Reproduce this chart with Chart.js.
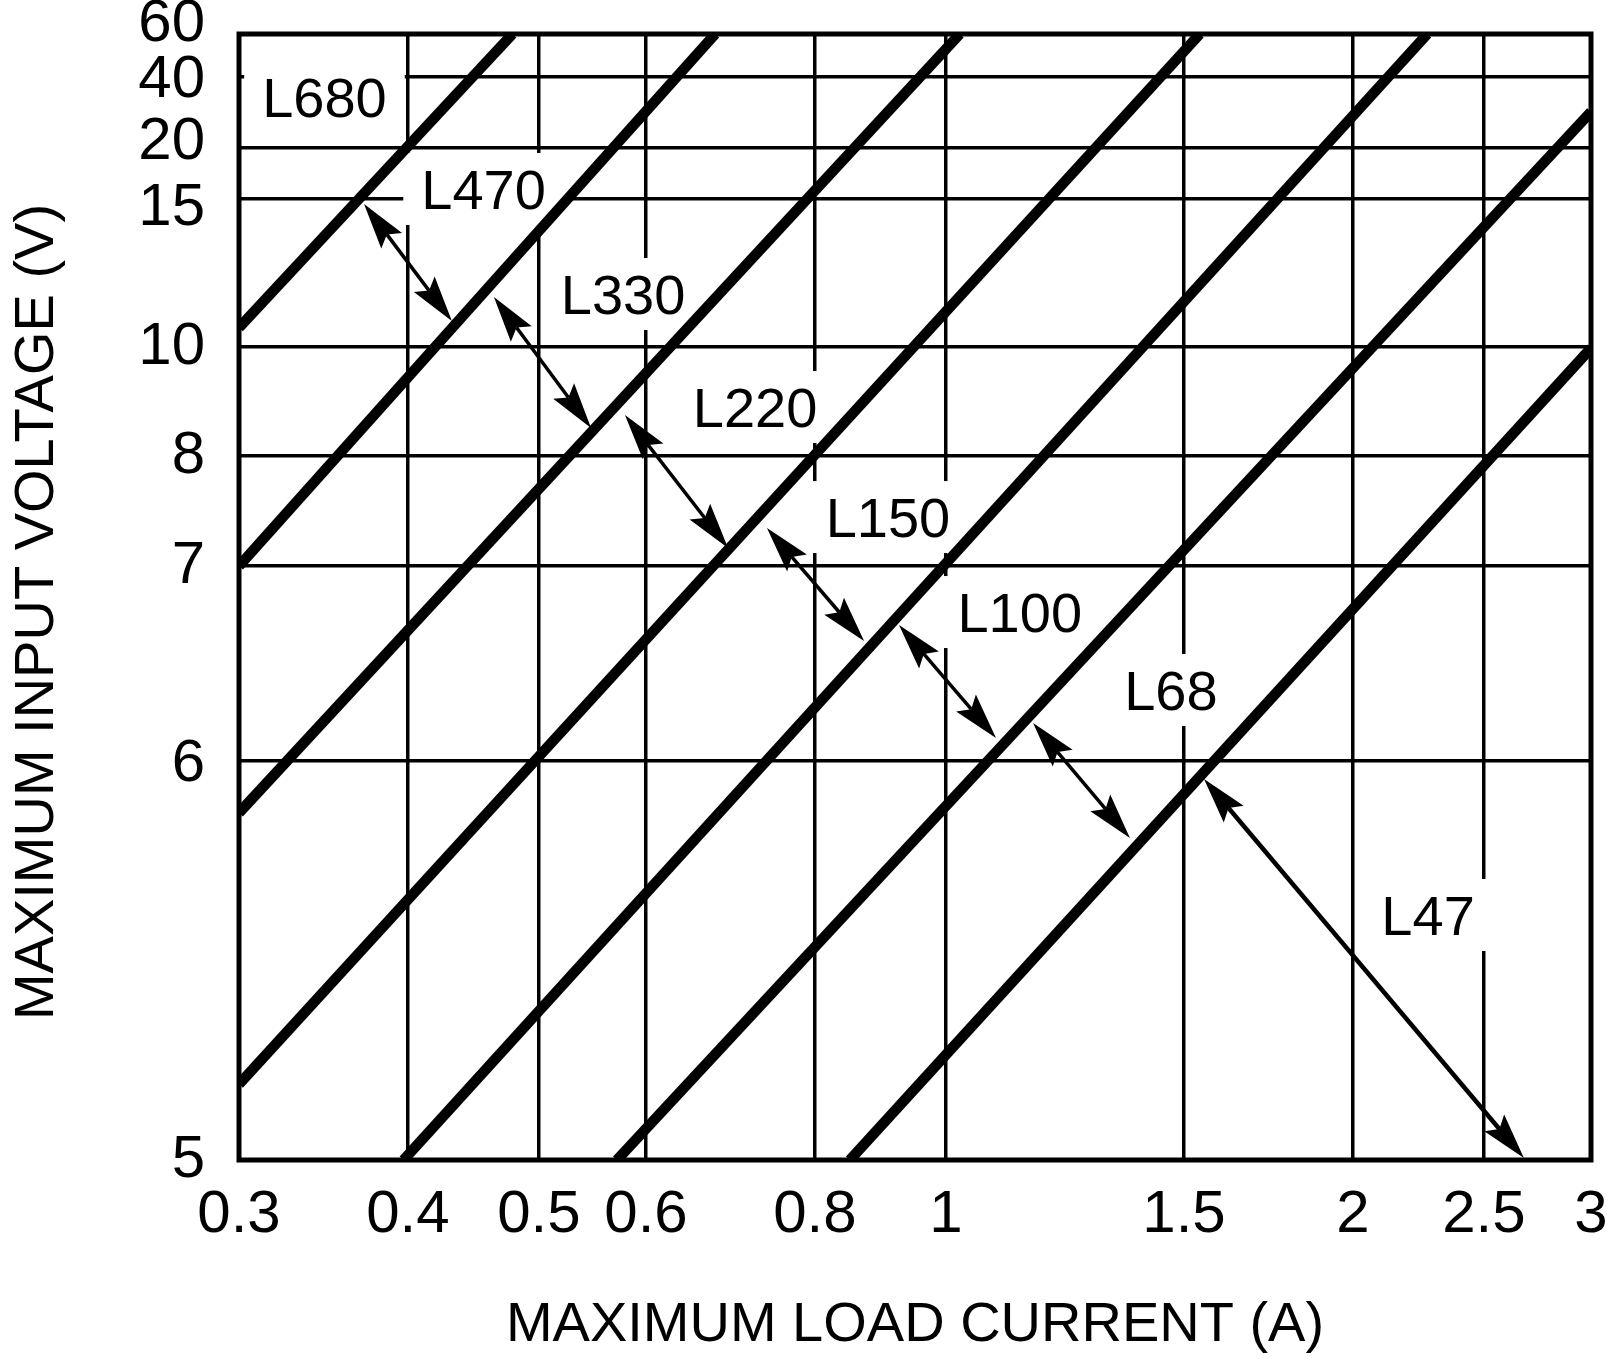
<!DOCTYPE html>
<html>
<head>
<meta charset="utf-8">
<script src="https://cdn.jsdelivr.net/npm/chart.js@4.4.1/dist/chart.umd.min.js"></script>
<style>
  html, body { margin: 0; padding: 0; background: #ffffff; }
  #wrap { width: 1607px; height: 1359px; position: relative; }
</style>
</head>
<body>
<div id="wrap"><canvas id="chart"></canvas></div>
<script>
// ---------------- data ----------------
const currentTicks = [0.3, 0.4, 0.5, 0.6, 0.8, 1, 1.5, 2, 2.5, 3];          // A (log axis)
const voltageTicks = [5, 6, 7, 8, 10, 15, 20, 40, 60];                     // V

// inductor boundary lines: one straight segment each (current A, voltage V)
const lineNames        = ['L680', 'L470', 'L330', 'L220', 'L150', 'L100', 'L68'];
const lineStartCurrent = [0.30, 0.30, 0.30, 0.30, 0.397, 0.571, 0.849];
const lineStartVoltage = [10.65, 7.0, 5.87, 5.19, 5, 5, 5];
const lineEndCurrent   = [0.478, 0.675, 1.024, 1.541, 2.27, 3, 3];
const lineEndVoltage   = [60, 60, 60, 60, 60, 30.2, 9.98];

// region labels (anchor in current / voltage)
const labelText    = ['L680', 'L470', 'L330', 'L220', 'L150', 'L100', 'L68', 'L47'];
const labelCurrent = [0.347, 0.455, 0.577, 0.7225, 0.906, 1.134, 1.467, 2.273];
const labelVoltage = [34.4, 15.98, 11.79, 8.90, 7.445, 6.764, 6.364, 5.614];

// double-headed arrows marking each region
const arrowStartCurrent = [0.3712, 0.4631, 0.5789, 0.7373, 0.9232, 1.160, 1.552];
const arrowStartVoltage = [14.83, 11.69, 8.752, 7.345, 6.697, 6.195, 5.955];
const arrowEndCurrent   = [0.4311, 0.5464, 0.6900, 0.8699, 1.089, 1.368, 2.676];
const arrowEndVoltage   = [10.88, 8.514, 7.164, 6.615, 6.118, 5.807, 5.005];

// ---------------- voltage axis geometry (non-uniform printed scale) ----------------
const voltageAxisFrac  = [0, 0.3544, 0.5275, 0.6252, 0.7220, 0.8535, 0.8988, 0.9618, 1];
const voltageLabelNudge = [0, 4, 0, 0, 0, 9, -5, 3, -10];   // px, printed label offsets
const voltageTitleShift = 15;                               // px

function voltToFrac(v) {
  const t = voltageTicks, f = voltageAxisFrac, n = t.length - 1;
  let i = 1;
  while (i < n && v > t[i]) i++;
  return f[i - 1] + (v - t[i - 1]) / (t[i] - t[i - 1]) * (f[i] - f[i - 1]);
}
function fracToVolt(d) {
  const t = voltageTicks, f = voltageAxisFrac, n = t.length - 1;
  let i = 1;
  while (i < n && d > f[i]) i++;
  return t[i - 1] + (d - f[i - 1]) / (f[i] - f[i - 1]) * (t[i] - t[i - 1]);
}

class VoltageScale extends Chart.LinearScale {
  buildTicks() { return voltageTicks.map(v => ({ value: v })); }
  getPixelForValue(value) { return this.getPixelForDecimal(voltToFrac(value)); }
  getValueForPixel(pixel) { return fracToVolt(this.getDecimalForPixel(pixel)); }
  _computeLabelItems(chartArea) {
    const items = super._computeLabelItems(chartArea);
    items.forEach((it, i) => {
      if (it && it.options && it.options.translation) it.options.translation[1] += (voltageLabelNudge[i] || 0);
    });
    return items;
  }
  drawTitle() {
    const ctx = this.ctx;
    ctx.save();
    ctx.translate(0, voltageTitleShift);
    super.drawTitle();
    ctx.restore();
  }
}
VoltageScale.id = 'voltage';
VoltageScale.defaults = {};
Chart.register(VoltageScale);

const FONT = "'Liberation Sans', Arial, sans-serif";

// ---------------- annotation plugin ----------------
const annotations = {
  id: 'annotations',
  beforeDatasetsDraw(chart) {
    const { ctx, chartArea: a, scales: { x, y } } = chart;
    ctx.save();
    // labels on white boxes
    ctx.font = '56px ' + FONT;
    ctx.textAlign = 'center';
    ctx.textBaseline = 'alphabetic';
    labelText.forEach((t, i) => {
      const px = x.getPixelForValue(labelCurrent[i]);
      const py = y.getPixelForValue(labelVoltage[i]);
      const w = ctx.measureText(t).width;
      ctx.fillStyle = '#ffffff';
      ctx.fillRect(px - w / 2 - 18, py - 20 - 16, w + 36, 40 + 32);
      ctx.fillStyle = '#000000';
      ctx.fillText(t, px, py + 20);
    });
    // frame
    ctx.strokeStyle = '#000000';
    ctx.lineWidth = 5;
    ctx.strokeRect(a.left, a.top, a.right - a.left, a.bottom - a.top);
    ctx.restore();
  },
  afterDatasetsDraw(chart) {
    const { ctx, scales: { x, y } } = chart;
    const L = 46, W = 13, N = 38;
    ctx.save();
    ctx.fillStyle = '#000000';
    ctx.strokeStyle = '#000000';
    function head(tx, ty, ux, uy) {
      const nx = -uy, ny = ux;
      ctx.beginPath();
      ctx.moveTo(tx, ty);
      ctx.lineTo(tx + ux * L + nx * W, ty + uy * L + ny * W);
      ctx.lineTo(tx + ux * N, ty + uy * N);
      ctx.lineTo(tx + ux * L - nx * W, ty + uy * L - ny * W);
      ctx.closePath();
      ctx.fill();
    }
    arrowStartCurrent.forEach((c, i) => {
      const x1 = x.getPixelForValue(c), y1 = y.getPixelForValue(arrowStartVoltage[i]);
      const x2 = x.getPixelForValue(arrowEndCurrent[i]), y2 = y.getPixelForValue(arrowEndVoltage[i]);
      const len = Math.hypot(x2 - x1, y2 - y1);
      const ux = (x2 - x1) / len, uy = (y2 - y1) / len;
      ctx.lineWidth = i === arrowStartCurrent.length - 1 ? 4.5 : 3.5;
      ctx.beginPath();
      ctx.moveTo(x1 + ux * N, y1 + uy * N);
      ctx.lineTo(x2 - ux * N, y2 - uy * N);
      ctx.stroke();
      head(x1, y1, ux, uy);
      head(x2, y2, -ux, -uy);
    });
    ctx.restore();
  }
};

// ---------------- chart ----------------
const datasets = lineNames.map((name, i) => ({
  label: name,
  data: [
    { x: lineStartCurrent[i], y: lineStartVoltage[i] },
    { x: lineEndCurrent[i], y: lineEndVoltage[i] }
  ],
  showLine: true,
  borderColor: '#000000',
  backgroundColor: '#000000',
  borderWidth: 10.5,
  borderCapStyle: 'butt',
  pointRadius: 0,
  pointHoverRadius: 0,
  clip: 0
}));

new Chart(document.getElementById('chart'), {
  type: 'scatter',
  data: { datasets },
  plugins: [annotations],
  options: {
    responsive: true,
    maintainAspectRatio: false,
    animation: false,
    devicePixelRatio: 1,
    layout: { padding: { top: 34, right: 16, left: 0, bottom: 0 } },
    plugins: { legend: { display: false }, tooltip: { enabled: false } },
    scales: {
      x: {
        type: 'logarithmic',
        min: 0.3,
        max: 3,
        bounds: 'data',
        afterBuildTicks: s => { s.ticks = currentTicks.map(v => ({ value: v })); },
        afterFit: s => { s.height = 199; s.paddingLeft = 0; s.paddingRight = 0; },
        grid: { color: '#000000', lineWidth: 3.5, drawTicks: false },
        border: { display: false },
        ticks: {
          autoSkip: false,
          maxRotation: 0,
          minRotation: 0,
          padding: 25,
          color: '#000000',
          font: { family: FONT, size: 60, lineHeight: 1 },
          callback: v => String(v)
        },
        title: {
          display: true,
          text: 'MAXIMUM LOAD CURRENT (A)',
          color: '#000000',
          font: { family: FONT, size: 56 },
          padding: { top: 0, bottom: 0 }
        }
      },
      y: {
        type: 'voltage',
        min: 5,
        max: 60,
        bounds: 'data',
        afterFit: s => { s.width = 239; s.paddingTop = 0; s.paddingBottom = 0; },
        grid: { color: '#000000', lineWidth: 3.5, drawTicks: false },
        border: { display: false },
        ticks: {
          autoSkip: false,
          padding: 34,
          color: '#000000',
          font: { family: FONT, size: 60, lineHeight: 1 },
          callback: v => String(v)
        },
        title: {
          display: true,
          text: 'MAXIMUM INPUT VOLTAGE (V)',
          color: '#000000',
          font: { family: FONT, size: 56 },
          padding: { top: 4, bottom: 0 }
        }
      }
    }
  }
});
</script>
</body>
</html>
